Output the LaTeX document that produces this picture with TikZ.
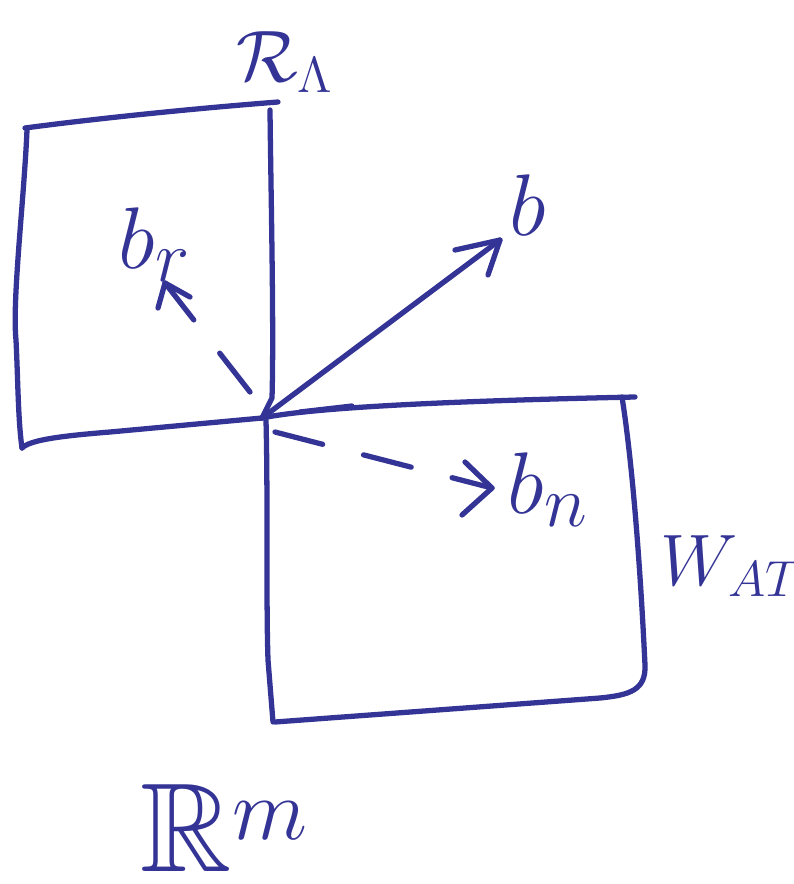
\documentclass[tikz,border=0pt]{standalone}
\usepackage{amssymb}
\definecolor{ink}{RGB}{52,52,150}
\begin{document}
\begin{tikzpicture}[x=0.01cm,y=-0.01cm,
  pen/.style={draw=ink,line width=1.5pt,line cap=round,line join=round},
  dpen/.style={pen,dash pattern=on 14pt off 12pt},
  lab/.style={text=ink,inner sep=0pt}]
\useasboundingbox (0,0) rectangle (794,884);
% upper-left square
\draw[pen] (25,128) .. controls (100,118) and (200,108) .. (278,102);
\draw[pen] (27,130) .. controls (24,200) and (12,300) .. (16,340) .. controls (18,380) and (18,420) .. (22,448);
\draw[pen] (22,448) .. controls (30,440) and (60,436) .. (110,432) -- (262,418);
\draw[pen] (270,110) .. controls (271,200) and (274,330) .. (272,398) -- (262,418);
% lower-right square
\draw[pen] (262,418) .. controls (300,410) and (400,402) .. (635,397);
\draw[pen] (300,412) -- (352,406);
\draw[pen] (622,397) .. controls (632,460) and (640,560) .. (645,665) .. controls (646,690) and (630,695) .. (600,698) -- (275,722);
\draw[pen] (266,420) .. controls (268,500) and (266,600) .. (268,660) -- (273,722);
% named points
\coordinate (O) at (262,418);
\coordinate (B) at (500,240);
\coordinate (Rs) at (250,392);
\coordinate (R) at (165,283);
\coordinate (Ns) at (275,432);
\coordinate (N) at (492,488);
% vector b
\draw[pen] (O) -- (B);
\draw[pen] (455,250) -- (B) -- (488,275);
% dashed b_r
\draw[dpen] (Rs) -- (R);
\draw[pen] (158,308) -- (R) -- (190,297);
% dashed b_n
\draw[dpen] (Ns) -- (N);
\draw[pen] (465,462) -- (N) -- (462,515);
% labels
\node[lab,font=\fontsize{21}{25}\selectfont] (lRA) at (285,62) {$\mathcal{R}_{\Lambda}$};
\node[lab,font=\fontsize{30}{34}\selectfont] (lb) at (528,205) {$b$};
\node[lab,font=\fontsize{28}{32}\selectfont] (lbr) at (155,245) {$b_r$};
\node[lab,font=\fontsize{30}{34}\selectfont] (lbn) at (548,490) {$b_n$};
\node[lab,font=\fontsize{20}{24}\selectfont,anchor=west] (lW) at (660,566) {$W_{AT}$};
\node[lab,font=\fontsize{36}{40}\selectfont] (lRm) at (225,828) {$\mathbb{R}^m$};
\end{tikzpicture}
\end{document}
